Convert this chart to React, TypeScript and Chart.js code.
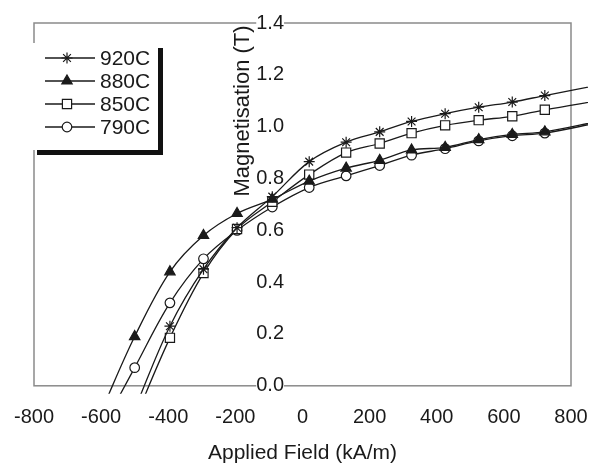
import React, { useEffect, useRef } from 'react';
import { Chart, registerables } from 'chart.js';
import { drawPoint } from 'chart.js/helpers';

Chart.register(...registerables);

const SERIES_NAMES = ['920C', '880C', '850C', '790C'];

const FIELD_920 = [-500, -395, -295, -195, -90, 20, 130, 230, 325, 425, 525, 625, 722, 880];
const MAG_920 = [-0.09, 0.23, 0.45, 0.61, 0.73, 0.865, 0.94, 0.98, 1.02, 1.05, 1.075, 1.095, 1.12, 1.16];

const FIELD_880 = [-600, -500, -395, -295, -195, -90, 20, 130, 230, 325, 425, 525, 625, 722, 880];
const MAG_880 = [-0.1, 0.19, 0.44, 0.58, 0.665, 0.72, 0.79, 0.84, 0.87, 0.91, 0.92, 0.95, 0.97, 0.98, 1.02];

const FIELD_850 = [-500, -395, -295, -195, -90, 20, 130, 230, 325, 425, 525, 625, 722, 880];
const MAG_850 = [-0.13, 0.185, 0.435, 0.605, 0.71, 0.815, 0.9, 0.935, 0.975, 1.005, 1.025, 1.04, 1.065, 1.1];

const FIELD_790 = [-600, -500, -395, -295, -195, -90, 20, 130, 230, 325, 425, 525, 625, 722, 880];
const MAG_790 = [-0.17, 0.07, 0.32, 0.49, 0.6, 0.69, 0.765, 0.81, 0.85, 0.89, 0.915, 0.945, 0.965, 0.975, 1.015];

const X_TICKS = [-800, -600, -400, -200, 0, 200, 400, 600, 800];
const Y_TICKS = [0, 0.2, 0.4, 0.6, 0.8, 1.0, 1.2, 1.4];

const X_TITLE = 'Applied Field (kA/m)';
const Y_TITLE = 'Magnetisation (T)';

const FONT = "'Liberation Sans', Arial, sans-serif";
const INK = '#1a1a1a';

const zip = (xs: number[], ys: number[]) => xs.map((x, i) => ({ x, y: ys[i] }));

const STYLES = [
  { pointStyle: 'star', radius: 5.5, fill: INK },
  { pointStyle: 'triangle', radius: 6, fill: INK },
  { pointStyle: 'rect', radius: 6.5, fill: '#ffffff' },
  { pointStyle: 'circle', radius: 4.8, fill: '#ffffff' },
];

const frame = {
  id: 'frame',
  beforeDraw(chart: any) {
    const { ctx, chartArea: a } = chart;
    ctx.save();
    ctx.fillStyle = '#ffffff';
    ctx.fillRect(0, 0, chart.width, chart.height);
    ctx.strokeStyle = '#8a8a8a';
    ctx.lineWidth = 1.5;
    ctx.strokeRect(a.left, a.top, a.right - a.left, a.bottom - a.top);
    ctx.restore();
  },
};

const yTitle = {
  id: 'yTitle',
  afterDraw(chart: any) {
    const { ctx, chartArea: a } = chart;
    ctx.save();
    ctx.translate(243, a.top + 88);
    ctx.rotate(-Math.PI / 2);
    ctx.font = `22px ${FONT}`;
    ctx.fillStyle = INK;
    ctx.textAlign = 'center';
    ctx.textBaseline = 'middle';
    ctx.fillText(Y_TITLE, 0, 0);
    ctx.restore();
  },
};

const legendBox = {
  id: 'legendBox',
  afterDraw(chart: any) {
    const { ctx, chartArea: a } = chart;
    const x0 = a.left - 1;
    const y0 = a.top + 20;
    const w = 125;
    const h = 107;
    ctx.save();
    ctx.fillStyle = '#ffffff';
    ctx.fillRect(x0, y0, w, h);
    ctx.fillStyle = '#111';
    ctx.fillRect(x0 + w, y0 + 5, 5, h);
    ctx.fillRect(x0 + 4, y0 + h, w + 1, 5);
    chart.data.datasets.forEach((ds: any, i: number) => {
      const cy = y0 + 15 + i * 23;
      ctx.strokeStyle = INK;
      ctx.lineWidth = 1.3;
      ctx.beginPath();
      ctx.moveTo(x0 + 12, cy);
      ctx.lineTo(x0 + 62, cy);
      ctx.stroke();
      const st = STYLES[i];
      ctx.fillStyle = st.fill;
      ctx.strokeStyle = INK;
      ctx.lineWidth = 1.2;
      drawPoint(ctx, { pointStyle: st.pointStyle, rotation: 0, radius: st.radius, borderWidth: 1.2 } as any, x0 + 34, cy);
      ctx.fillStyle = INK;
      ctx.font = `21px ${FONT}`;
      ctx.textAlign = 'left';
      ctx.textBaseline = 'middle';
      ctx.fillText(ds.label, x0 + 67, cy + 1);
    });
    ctx.restore();
  },
};

export default function App() {
  const ref = useRef<HTMLCanvasElement | null>(null);

  useEffect(() => {
    document.body.style.margin = '0';
    const canvas = ref.current;
    if (!canvas) return;
    const seriesData = [
      zip(FIELD_920, MAG_920),
      zip(FIELD_880, MAG_880),
      zip(FIELD_850, MAG_850),
      zip(FIELD_790, MAG_790),
    ];
    const datasets = SERIES_NAMES.map((name, i) => ({
      label: name,
      data: seriesData[i],
      borderColor: INK,
      borderWidth: 1.3,
      backgroundColor: STYLES[i].fill,
      pointBackgroundColor: STYLES[i].fill,
      pointBorderColor: INK,
      pointBorderWidth: 1.2,
      pointStyle: STYLES[i].pointStyle,
      pointRadius: (c: any) =>
        c.dataIndex === 0 || c.dataIndex === seriesData[i].length - 1 ? 0 : STYLES[i].radius,
      tension: 0.35,
      fill: false,
      clip: { left: 0, top: 0, right: 17, bottom: 8 },
    }));

    const chart = new Chart(canvas, {
      type: 'line',
      data: { datasets },
      options: {
        animation: false,
        responsive: false,
        devicePixelRatio: 1,
        layout: { padding: { left: 34, right: 19, top: 23, bottom: 0 } },
        plugins: { legend: { display: false }, tooltip: { enabled: false } },
        scales: {
          x: {
            type: 'linear',
            position: 'bottom',
            min: X_TICKS[0],
            max: X_TICKS[X_TICKS.length - 1],
            afterBuildTicks: (s: any) => {
              s.ticks = X_TICKS.map((v) => ({ value: v }));
            },
            afterFit: (s: any) => {
              s.paddingLeft = 0;
              s.paddingRight = 0;
            },
            ticks: {
              font: { family: FONT, size: 20 },
              color: INK,
              padding: 20,
              maxRotation: 0,
              callback: (v: any) => String(v),
            },
            grid: { display: false, drawTicks: false },
            border: { display: false },
            title: {
              display: true,
              text: X_TITLE,
              font: { family: FONT, size: 21 },
              color: INK,
              padding: { top: -9, bottom: 0 },
            },
          },
          y: {
            type: 'linear',
            axis: 'y',
            position: { x: -55 } as any,
            min: Y_TICKS[0],
            max: Y_TICKS[Y_TICKS.length - 1],
            afterBuildTicks: (s: any) => {
              s.ticks = Y_TICKS.map((v) => ({ value: v }));
            },
            afterFit: (s: any) => {
              s.width = 0;
            },
            ticks: {
              font: { family: FONT, size: 20 },
              color: INK,
              padding: 0,
              showLabelBackdrop: true,
              backdropColor: '#ffffff',
              backdropPadding: 0,
              callback: (v: any) => Number(v).toFixed(1),
            },
            grid: { display: false, drawTicks: false },
            border: { display: false },
            title: { display: false },
          },
        },
      },
      plugins: [frame, yTitle, legendBox],
    } as any);
    return () => chart.destroy();
  }, []);

  return (
    <div style={{ width: 590, height: 466 }}>
      <canvas ref={ref} width={590} height={466} style={{ display: 'block' }} />
    </div>
  );
}
